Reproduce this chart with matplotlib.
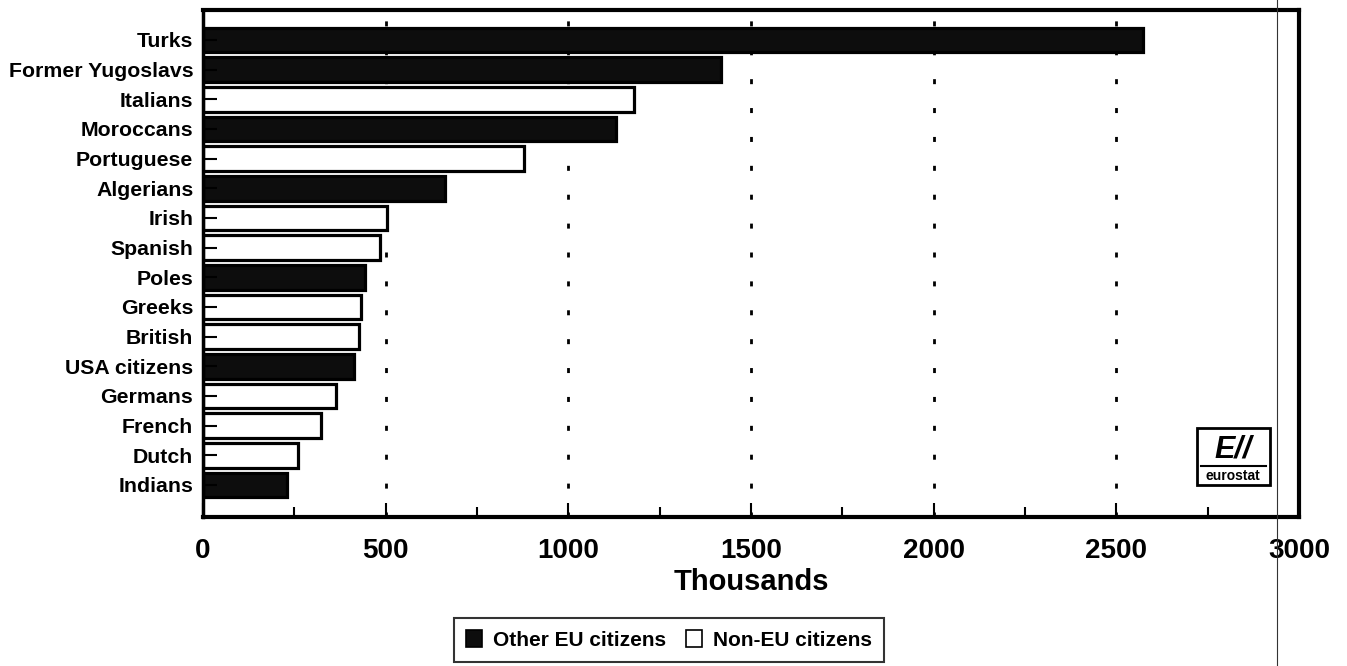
# MODULE IMPORTS
import numpy as np
import matplotlib.pyplot as plt
from matplotlib.patches import Patch, Rectangle
from matplotlib.lines import Line2D

plt.rcParams['font.family'] = ['Liberation Sans', 'DejaVu Sans']
plt.rcParams['font.weight'] = 'bold'

########
# DATA #
########
# FOREIGN RESIDENTS BY NATIONALITY, IN THOUSANDS
nationalities = ["Turks", "Former Yugoslavs", "Italians", "Moroccans", "Portuguese",
                 "Algerians", "Irish", "Spanish", "Poles", "Greeks", "British",
                 "USA citizens", "Germans", "French", "Dutch", "Indians"]
thousands = [2572, 1417, 1180, 1131, 880, 662, 504, 485, 444, 433, 428, 414, 365, 324, 259, 229]

# LEGEND GROUP OF EACH BAR (LABELS KEPT AS PRINTED IN THE SOURCE)
legend_labels = ["Other EU citizens", "Non-EU citizens"]
groups = ["Other EU citizens", "Other EU citizens", "Non-EU citizens", "Other EU citizens",
          "Non-EU citizens", "Other EU citizens", "Non-EU citizens", "Non-EU citizens",
          "Other EU citizens", "Non-EU citizens", "Non-EU citizens", "Other EU citizens",
          "Non-EU citizens", "Non-EU citizens", "Non-EU citizens", "Other EU citizens"]

x_ticks = [0, 500, 1000, 1500, 2000, 2500, 3000]
x_label = "Thousands"

group_colors = {"Other EU citizens": "#0d0d0d", "Non-EU citizens": "white"}

##########
# FIGURE #
##########
W, H = 1347, 666
fig = plt.figure(figsize=(W / 100, H / 100), dpi=100)
ax = fig.add_axes([203 / W, 1 - 517 / H, (1299 - 203) / W, (517 - 10) / H])
ax.set_axisbelow(False)  # AXIS (TICKS) DRAWN OVER THE BARS

y = np.arange(len(nationalities))
colors = [group_colors[g] for g in groups]
ax.barh(y, thousands, height=0.83, color=colors, edgecolor="black", linewidth=2.3, zorder=2)

ax.set_xlim(0, 3000)
ax.set_ylim(len(nationalities) - 1 + 1.08, -1.01)

# DOTTED GRID LINES AT THE INNER MAJOR TICKS
for xv in x_ticks[1:-1]:
    ax.axvline(xv, color="black", lw=2, linestyle=(0, (1.8, 8.6)), zorder=1)

# TICKS
ax.set_xticks(x_ticks)
ax.set_xticklabels([str(v) for v in x_ticks])
ax.set_xticks(np.arange(250, 3000, 500), minor=True)
ax.tick_params(axis="x", which="major", direction="in", length=10, width=1.5,
               pad=15, labelsize=20)
ax.tick_params(axis="x", which="minor", direction="in", length=7, width=1.5)
ax.set_yticks(y)
ax.set_yticklabels(nationalities)
ax.tick_params(axis="y", direction="in", length=10, width=1.5, pad=7, labelsize=15.3)

ax.set_xlabel(x_label, fontsize=21, fontweight="bold", labelpad=3)

# THICK FRAME
for side in ["top", "right", "bottom"]:
    ax.spines[side].set_linewidth(3)
ax.spines["left"].set_linewidth(2.5)

##########
# LEGEND #
##########
handles = [Patch(facecolor=group_colors[l], edgecolor="black", linewidth=1.2) for l in legend_labels]
leg = fig.legend(handles, legend_labels, loc="center", bbox_to_anchor=(669 / W, 1 - 640 / H),
                 ncol=2, frameon=True, fancybox=False, edgecolor="black",
                 prop=dict(weight="bold", size=15), handlelength=0.75, handleheight=0.9,
                 handletextpad=0.5, columnspacing=1.0, borderpad=0.6)
leg.get_frame().set_linewidth(1.5)

########
# LOGO #
########
fig.add_artist(Rectangle((1197 / W, 1 - 485 / H), 73 / W, 57 / H, transform=fig.transFigure,
                         fill=False, lw=2, edgecolor="black"))
fig.add_artist(Line2D([1201 / W, 1266 / W], [1 - 466 / H] * 2, transform=fig.transFigure,
                      color="black", lw=1.5))
fig.text(1233 / W, 1 - 449 / H, "E//", ha="center", va="center", fontsize=22,
         fontweight="bold", fontstyle="italic")
fig.text(1233 / W, 1 - 476 / H, "eurostat", ha="center", va="center", fontsize=10,
         fontweight="bold")

# THIN SCAN LINE RUNNING DOWN THE PAGE
fig.add_artist(Line2D([1277 / W] * 2, [0, 1], transform=fig.transFigure, color="#333333", lw=0.8))

fig.savefig("out.png", dpi=100)
